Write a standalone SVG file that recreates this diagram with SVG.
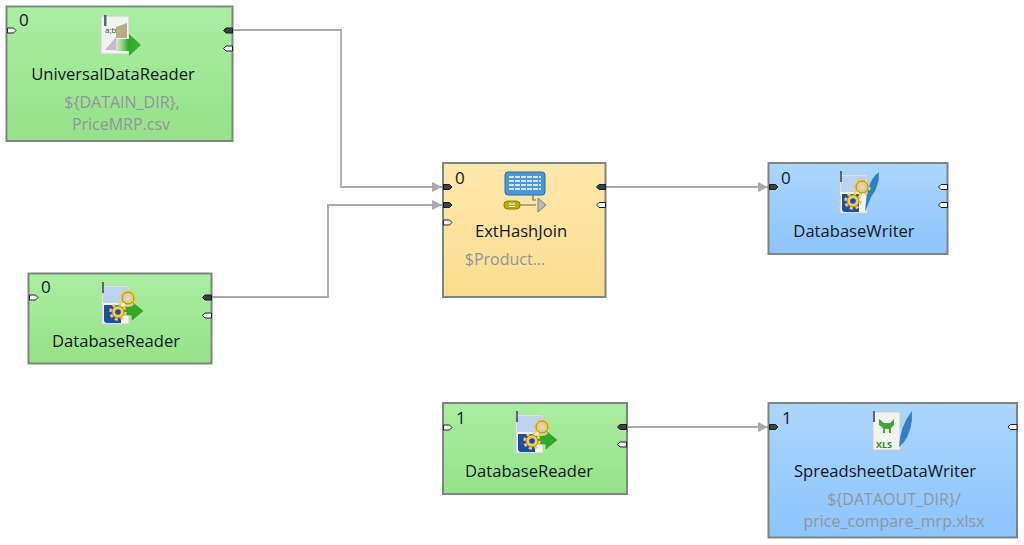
<svg xmlns="http://www.w3.org/2000/svg" width="1024" height="545" viewBox="0 0 1024 545">
<style>
text{font-family:"Open Sans","Noto Sans","Liberation Sans",sans-serif;font-size:16px}
.t{fill:#101820;text-anchor:middle;font-size:16.600px}
.s{fill:#8f979b;text-anchor:middle}
.n{fill:#101820;font-size:17px}
.b{stroke:#7d8580;stroke-width:2}
.pe{fill:#f4f6f4;stroke:#1c2326;stroke-width:1}
.pf{fill:#3a4248;stroke:#15191c;stroke-width:1}
.c{fill:none;stroke:#a9a9a9;stroke-width:1.800}
.page{fill:#f1f4ee;stroke:#c9cec8;stroke-width:1}
.gear{fill:#f2cc55;stroke:#a98a2a;stroke-width:1}
.gt{fill:none;stroke:#f2cc55;stroke-width:3.500;stroke-dasharray:3 2.500}
.arr{fill:#2faa2a;stroke:#1d8a1d;stroke-width:.5}
</style>
<defs>
<linearGradient id="g" x1="0" y1="0" x2="0" y2="1"><stop offset="0" stop-color="#aaeea2"/><stop offset="1" stop-color="#96e189"/></linearGradient>
<linearGradient id="y" x1="0" y1="0" x2="0" y2="1"><stop offset="0" stop-color="#fde7ab"/><stop offset="1" stop-color="#fbdd8e"/></linearGradient>
<linearGradient id="u" x1="0" y1="0" x2="0" y2="1"><stop offset="0" stop-color="#acd6fe"/><stop offset="1" stop-color="#8cc4fb"/></linearGradient>
<linearGradient id="ga" x1="0" y1="0" x2="1" y2="0"><stop offset="0" stop-color="#9fdc98" stop-opacity=".3"/><stop offset=".5" stop-color="#2faa2a"/><stop offset="1" stop-color="#37b52f"/></linearGradient>
<marker id="a" viewBox="0 0 10 10" refX="10" refY="5" markerWidth="11" markerHeight="10" markerUnits="userSpaceOnUse" orient="auto"><path d="M0 0L10 5L0 10Z" fill="#a9a9a9"/></marker>
<path id="pin" d="M.5 0H6.500L9 2.500 6.500 5H.5Z"/>
<path id="pout" d="M9 0H2.500L0 2.500 2.500 5H9Z"/>
<g id="gr"><circle r="7" class="gt"/><circle r="6" class="gear"/><circle r="2.800" fill="#1f4c9c"/></g>
<g id="gr2"><circle r="7" class="gt"/><circle r="6" class="gear"/><circle r="2.800" fill="#c9d6e8"/></g>
<g id="dbicon">
<rect x="0" y="3" width="27" height="38" class="page"/>
<rect x="1" y="4" width="25" height="16" fill="#bcd3ef"/>
<rect x="0" y="-1" width="2" height="11" fill="#5b6770"/>
<path d="M2 22h17v18H5q-3 0-3-3Z" fill="#1a4fa8"/>
</g>
</defs>
<g id="connectors">
<path class="c" d="M232 30H341V187H442" marker-end="url(#a)"/>
<path class="c" d="M212 297H328V205H442" marker-end="url(#a)"/>
<path class="c" d="M606 187H768" marker-end="url(#a)"/>
<path class="c" d="M627 427H768" marker-end="url(#a)"/>
</g>
<g id="universal-data-reader">
<rect x="6.500" y="6.500" width="226" height="134.500" fill="url(#g)" class="b"/>
<text x="19" y="26" class="n">0</text>
<rect x="101" y="16" width="28" height="38" class="page"/>
<rect x="104" y="15" width="2.500" height="11" fill="#5b6770"/>
<text x="105" y="33" style="font-size:8px" fill="#33394a">a;b</text>
<path d="M116 38V27L127 23V38Z" fill="#b7ad83"/><path d="M105 50L116 37V50Z" fill="#c9b6d2"/>
<path d="M115 39h14v-5l12 11-12 11v-5h-14Z" fill="url(#ga)"/>
<text x="113" y="80" class="t">UniversalDataReader</text>
<text x="122" y="108" class="s">${DATAIN_DIR},</text>
<text x="121" y="130" class="s">PriceMRP.csv</text>
<use href="#pin" class="pe" transform="translate(7 28)"/>
<use href="#pout" class="pf" transform="translate(223.500 28)"/>
<use href="#pout" class="pe" transform="translate(223.500 46)"/>
</g>
<g id="database-reader-0">
<rect x="28.500" y="273.500" width="183" height="90" fill="url(#g)" class="b"/>
<text x="41" y="293" class="n">0</text>
<use href="#dbicon" transform="translate(102 283)"/>
<path d="M122 307h10v-5l11 9-11 9v-5h-10Z" class="arr"/>
<use href="#gr2" transform="translate(128 298)"/>
<use href="#gr" transform="translate(118 312)"/>
<text x="116" y="347" class="t">DatabaseReader</text>
<use href="#pin" class="pe" transform="translate(29 295)"/>
<use href="#pout" class="pf" transform="translate(202.500 295)"/>
<use href="#pout" class="pe" transform="translate(202.500 313)"/>
</g>
<g id="ext-hash-join">
<rect x="443" y="163" width="162.500" height="134" fill="url(#y)" class="b"/>
<text x="455" y="184" class="n">0</text>
<rect x="505" y="172" width="40" height="23" rx="3" fill="#4b97dc" stroke="#2a6aa8"/>
<path d="M509 177h32M509 181h32M509 185h32M509 189h32" stroke="#fff" stroke-width="1.500" stroke-dasharray="5 1"/>
<path d="M533 195v5h3M520 205h16" stroke="#6b6b58" stroke-width="1.200" fill="none"/>
<path d="M538 198l8 7-8 7Z" fill="#b9bcb6" stroke="#7e827c"/>
<rect x="504" y="201" width="16" height="8" rx="3.500" fill="#b8ad10" stroke="#8a8208"/>
<path d="M509 204h6M509 206.500h6" stroke="#fff" stroke-width="1"/>
<text x="521" y="237" class="t">ExtHashJoin</text>
<text x="505" y="265" class="s">$Product...</text>
<use href="#pin" class="pf" transform="translate(443 184.500)"/>
<use href="#pin" class="pf" transform="translate(443 202.500)"/>
<use href="#pin" class="pe" transform="translate(443 220)"/>
<use href="#pout" class="pf" transform="translate(596.500 184.500)"/>
<use href="#pout" class="pe" transform="translate(596.500 202.500)"/>
</g>
<g id="database-writer">
<rect x="768.500" y="163" width="179" height="91" fill="url(#u)" class="b"/>
<text x="781" y="184" class="n">0</text>
<use href="#dbicon" transform="translate(840 172)"/>
<path d="M866 201Q868 180 879 172Q879 188 871 197L865 212Z" fill="#2f7fd0"/>
<use href="#gr2" transform="translate(862 187)"/>
<use href="#gr" transform="translate(853 201)"/>
<text x="854" y="237" class="t">DatabaseWriter</text>
<use href="#pin" class="pf" transform="translate(769 184.500)"/>
<use href="#pout" class="pe" transform="translate(938.500 184.500)"/>
<use href="#pout" class="pe" transform="translate(938.500 202.500)"/>
</g>
<g id="database-reader-1">
<rect x="443" y="403" width="184" height="91" fill="url(#g)" class="b"/>
<text x="456" y="424" class="n">1</text>
<use href="#dbicon" transform="translate(516 412)"/>
<path d="M536 436h10v-5l11 9-11 9v-5h-10Z" class="arr"/>
<use href="#gr2" transform="translate(542 427)"/>
<use href="#gr" transform="translate(532 441)"/>
<text x="529" y="477" class="t">DatabaseReader</text>
<use href="#pin" class="pe" transform="translate(443 425)"/>
<use href="#pout" class="pf" transform="translate(617.500 424.500)"/>
<use href="#pout" class="pe" transform="translate(617.500 442)"/>
</g>
<g id="spreadsheet-data-writer">
<rect x="768.500" y="403" width="248.500" height="134.500" fill="url(#u)" class="b"/>
<text x="782" y="424" class="n">1</text>
<rect x="873" y="412" width="27" height="38" class="page"/>
<rect x="873" y="411" width="2" height="11" fill="#5b6770"/>
<path d="M879 419l5 4h6l4-4v6l-3 3v5h-2v-4h-4v4h-2v-5l-4-3Z" fill="#3aa83a"/>
<text x="876" y="448" style="font-size:9px;font-weight:700" fill="#2e8f2e">XLS</text>
<path d="M899 447Q900 426 912 411Q913 430 904 442Z" fill="#2f7fd0"/>
<text x="885" y="477" class="t">SpreadsheetDataWriter</text>
<text x="894" y="505" class="s">${DATAOUT_DIR}/</text>
<text x="894" y="527" class="s">price_compare_mrp.xlsx</text>
<use href="#pin" class="pf" transform="translate(769 424.500)"/>
<use href="#pout" class="pe" transform="translate(1008 424.500)"/>
</g>
</svg>
